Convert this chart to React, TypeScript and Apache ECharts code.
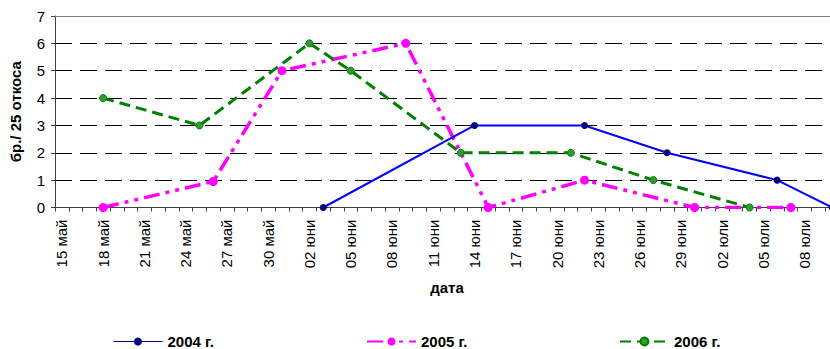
import React, { useEffect, useRef } from "react";
import * as echarts from "echarts";

// Day categories (one per day, 15 май – 10 юли)
const monthSpans: [string, number, number][] = [
  ["май", 15, 31],
  ["юни", 1, 30],
  ["юли", 1, 10],
];
const categories: string[] = [];
monthSpans.forEach(([m, a, b]) => {
  for (let d = a; d <= b; d++) categories.push(`${String(d).padStart(2, "0")} ${m}`);
});

const seriesNames = ["2004 г.", "2005 г.", "2006 г."];

const data2004: [string, number][] = [
  ["03 юни", 0],
  ["14 юни", 3],
  ["22 юни", 3],
  ["28 юни", 2],
  ["06 юли", 1],
  ["10 юли", 0],
];
const data2005: [string, number][] = [
  ["18 май", 0],
  ["26 май", 0.95],
  ["31 май", 5],
  ["09 юни", 6],
  ["15 юни", 0],
  ["22 юни", 1],
  ["30 юни", 0],
  ["07 юли", 0],
];
const data2006: [string, number][] = [
  ["18 май", 4],
  ["25 май", 3],
  ["02 юни", 6],
  ["05 юни", 5],
  ["13 юни", 2],
  ["21 юни", 2],
  ["27 юни", 1],
  ["04 юли", 0],
];

const FONT = "'Liberation Sans', Arial, sans-serif";

const legendBase = {
  top: 334,
  padding: 0,
  itemWidth: 49,
  itemHeight: 10,
  textStyle: { fontFamily: FONT, fontSize: 15, lineHeight: 14, fontWeight: "bold", color: "#000" },
};

export default function App() {
  const ref = useRef<HTMLDivElement>(null);
  useEffect(() => {
    if (!ref.current) return;
    const chart = echarts.init(ref.current, null, { renderer: "svg" });
    chart.setOption({
      animation: false,
      textStyle: { fontFamily: FONT },
      grid: { left: 54, top: 16, width: 785, height: 191.5, containLabel: false },
      legend: [
        {
          ...legendBase,
          left: 113,
          data: [{ name: seriesNames[0], lineStyle: { color: "#000080", width: 1 } }],
        },
        { ...legendBase, left: 366, data: [{ name: seriesNames[1] }] },
        { ...legendBase, left: 619, data: [{ name: seriesNames[2] }] },
      ],
      xAxis: [
        {
          type: "category",
          data: categories,
          boundaryGap: true,
          axisLine: { lineStyle: { color: "#404040", width: 1 } },
          axisTick: { show: true, interval: 0, length: 4, lineStyle: { color: "#404040" } },
          axisLabel: {
            interval: 2,
            rotate: 90,
            margin: 12,
            fontSize: 15,
            color: "#000",
            fontFamily: FONT,
          },
          name: "дата",
          nameLocation: "middle",
          nameGap: 72,
          nameTextStyle: { fontSize: 15, fontWeight: "bold", color: "#000", fontFamily: FONT },
          splitLine: { show: false },
        },
        {
          type: "category",
          data: categories,
          position: "top",
          axisLine: { lineStyle: { color: "#808080", width: 1 } },
          axisTick: { show: false },
          axisLabel: { show: false },
          splitLine: { show: false },
        },
      ],
      yAxis: {
        type: "value",
        min: 0,
        max: 7,
        interval: 1,
        axisLine: { show: true, lineStyle: { color: "#404040", width: 1 } },
        axisTick: { show: true, length: 4, lineStyle: { color: "#404040" } },
        axisLabel: { fontSize: 15, color: "#000", margin: 10, fontFamily: FONT },
        splitLine: {
          show: true,
          showMinLine: false,
          showMaxLine: false,
          lineStyle: { color: "#000", width: 1, type: [17, 8] },
        },
        name: "бр./ 25 откоса",
        nameLocation: "middle",
        nameGap: 32,
        nameTextStyle: { fontSize: 15, fontWeight: "bold", color: "#000", fontFamily: FONT },
      },
      series: [
        {
          name: seriesNames[0],
          type: "line",
          data: data2004,
          symbol: "circle",
          symbolSize: 7,
          lineStyle: { color: "#0000FF", width: 2 },
          itemStyle: { color: "#000080" },
          z: 3,
        },
        {
          name: seriesNames[1],
          type: "line",
          data: data2005,
          symbol: "circle",
          symbolSize: 9,
          lineStyle: { color: "#FF00FF", width: 3.5, type: [16, 6, 4, 6, 4, 6] },
          itemStyle: { color: "#FF00FF" },
          z: 2,
        },
        {
          name: seriesNames[2],
          type: "line",
          data: data2006,
          symbol: "circle",
          symbolSize: 7,
          lineStyle: { color: "#008000", width: 3, type: [11, 6] },
          itemStyle: { color: "#339933", borderColor: "#008000", borderWidth: 1 },
          z: 2,
        },
      ],
    });
    return () => chart.dispose();
  }, []);
  return (
    <div
      style={{
        position: "absolute",
        left: 0,
        top: 0,
        width: 830,
        height: 349,
        overflow: "hidden",
        background: "#fff",
      }}
    >
      <div ref={ref} style={{ width: 845, height: 349 }} />
    </div>
  );
}
